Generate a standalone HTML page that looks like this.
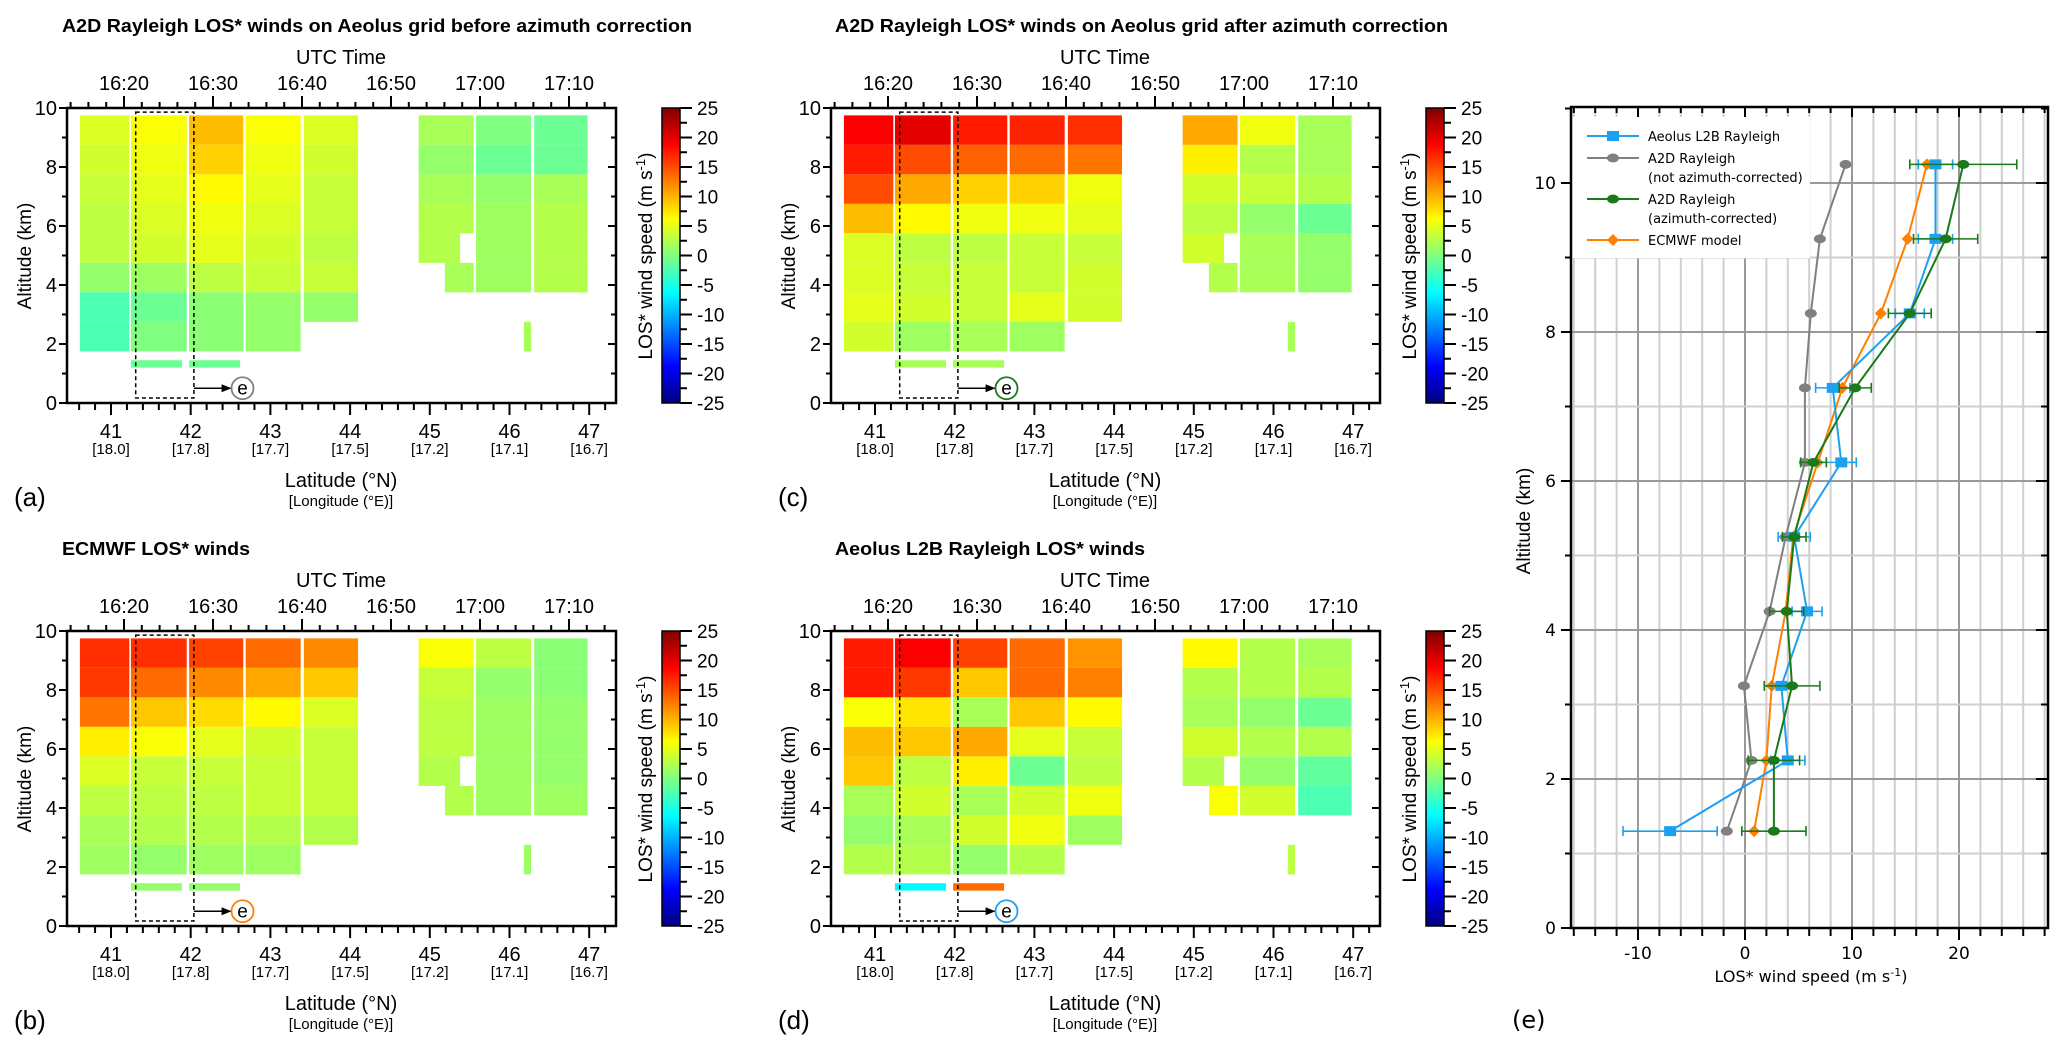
<!DOCTYPE html>
<html><head><meta charset="utf-8"><style>
html,body{margin:0;padding:0;background:#fff;}
svg{display:block;}
text{font-family:"Liberation Sans",Arial,sans-serif;fill:#000;}
.dv{font-family:"DejaVu Sans","Liberation Sans",sans-serif;}
</style></head><body>
<svg id="chart" xmlns="http://www.w3.org/2000/svg" width="2067" height="1051" viewBox="0 0 2067 1051">
<defs>
<linearGradient id="jetgrad" x1="0" y1="1" x2="0" y2="0"></linearGradient>
<marker id="arrowhead" markerWidth="10" markerHeight="8" refX="9" refY="4" orient="auto" markerUnits="userSpaceOnUse"><path d="M0,0 L10,4 L0,8 Z" fill="#000"/></marker>
</defs>
</svg>
<script>
// ---------- heatmap data (rows top->bottom: 9.25 ... 2.25 km; cols 1..8) ----------
const colLat0 = [40.61, 41.25, 41.98, 42.69, 43.42, 44.86, 45.58, 46.31];
const colLat1 = [41.23, 41.95, 42.66, 43.38, 44.10, 45.55, 46.27, 46.98];
const rowAltBottom = [8.75, 7.75, 6.75, 5.75, 4.75, 3.75, 2.75, 1.75];
const cellOverrides = [[4, 5, 44.86, 45.38], [5, 5, 45.19, 45.55]];
const tinyLat = [46.18, 46.27];
const lowBarLat0 = [41.25, 41.98];
const lowBarLat1 = [41.89, 42.62];
const lowBarAlt = [1.2, 1.45];
const latTicks = [41, 42, 43, 44, 45, 46, 47];
const lonTickLabels = ["[18.0]", "[17.8]", "[17.7]", "[17.5]", "[17.2]", "[17.1]", "[16.7]"];
const timeTickLabels = ["16:20", "16:30", "16:40", "16:50", "17:00", "17:10"];
const altTickLabels = [0, 2, 4, 6, 8, 10];
const cbarTickLabels = [25, 20, 15, 10, 5, 0, -5, -10, -15, -20, -25];

const valuesA = [
 [4.5, 6, 9.5, 6, 4.5, 2, 0, -1],
 [4, 5.5, 8.5, 5.5, 4, 1, -1, -1],
 [3.5, 5, 6.5, 5, 3.5, 2, 1, 2],
 [3, 4.5, 5.5, 4.5, 3.5, 2.5, 1.5, 2.5],
 [3, 4, 5, 4, 3, 2.5, 1.5, 2.5],
 [1, 1.5, 3, 3.5, 3.5, 2, 1.5, 2.5],
 [-2.5, -1, 0.5, 1, 1, null, null, null],
 [-2.5, 0, 0.5, 1, null, null, null, null]];
const tinyA = 2, lowBarsA = [-1, -1];

const valuesC = [
 [19, 20, 17.5, 17, 16.5, 10.5, 5.5, 2],
 [17.5, 15, 14, 13.5, 13, 7, 2.5, 2],
 [15, 10.5, 8.5, 8.5, 5.5, 4, 3.5, 2.5],
 [9.5, 6.5, 5.5, 5.5, 5, 3, 1, -1],
 [4.5, 3, 3, 3.5, 3.5, 4, 2, 1],
 [4.5, 3.5, 3.5, 3.5, 4, 2.5, 2, 1],
 [5, 4, 3.5, 5, 4, null, null, null],
 [4, 1.5, 2, 1.5, null, null, null, null]];
const tinyC = 2, lowBarsC = [2, 2];

const valuesB = [
 [16.5, 16.5, 15.5, 13.5, 12, 6, 3, 0.5],
 [16, 13.5, 12, 10.5, 9, 3.5, 1, 0.5],
 [13, 9, 8, 6.5, 4.5, 3, 1.5, 1],
 [7, 6, 5, 4, 3.5, 3, 1.5, 1],
 [4.5, 3.5, 3.5, 3.5, 3.5, 2.5, 1.5, 1],
 [3, 3, 3, 3.5, 3.5, 2.5, 1.5, 1.5],
 [2, 2.5, 2.5, 2.5, 2.5, null, null, null],
 [1.5, 1, 1.5, 1.5, null, null, null, null]];
const tinyB = 1.5, lowBarsB = [1, 1];

const valuesD = [
 [17.5, 19, 15.5, 13.5, 11.5, 6.5, 2.5, 2],
 [17.5, 16, 9, 13.5, 12.5, 2.5, 2.5, 2.5],
 [6, 7.5, 2, 9, 6.5, 2, 1, -1],
 [9.5, 9, 10.5, 5, 3.5, 4, 2.5, 2.5],
 [9, 3, 7, -1, 3, 2.5, 1, -1.5],
 [2, 4, 2, 4, 5.5, 6, 4, -2.5],
 [1, 2, 4, 5.5, 1.5, null, null, null],
 [2.5, 2.5, 1, 2.5, null, null, null, null]];
const tinyD = 3, lowBarsD = [-6.5, 13.5];

// ---------- profile data (panel e) ----------
const profAlt = [10.25, 9.25, 8.25, 7.25, 6.25, 5.25, 4.25, 3.25, 2.25, 1.3];
const l2bVals = [17.8, 17.8, 15.4, 8.2, 9.0, 4.6, 5.8, 3.4, 4.0, -7.0];
const l2bErr = [1.6, 1.6, 1.35, 1.6, 1.4, 1.5, 1.4, 0.9, 1.6, 4.4];
const rawVals = [9.4, 7.0, 6.15, 5.6, 5.6, 3.8, 2.3, -0.1, 0.6, -1.7];
const corrVals = [20.4, 18.75, 15.4, 10.3, 6.4, 4.6, 3.9, 4.4, 2.7, 2.7];
const corrErr = [5.0, 3.0, 2.0, 1.5, 1.2, 1.1, 1.6, 2.6, 2.4, 3.0];
const ecmwfVals = [17.0, 15.2, 12.7, 9.1, 6.8, 4.5, 3.8, 2.5, 2.0, 0.85];
const eXTickLabels = [-10, 0, 10, 20];
const eYTickLabels = [0, 2, 4, 6, 8, 10];

const NS = "http://www.w3.org/2000/svg";
const svg = document.getElementById('chart');
function mk(tag, attrs, parent) {
  const e = document.createElementNS(NS, tag);
  for (const k in attrs) e.setAttribute(k, attrs[k]);
  (parent || svg).appendChild(e);
  return e;
}
function txt(str, attrs, parent) { const e = mk('text', attrs, parent); e.textContent = str; return e; }
function clip(v) { return Math.max(0, Math.min(1, v)); }
function jet(v) {
  const t = (v + 25) / 50;
  const r = clip(1.5 - Math.abs(4 * t - 3)), g = clip(1.5 - Math.abs(4 * t - 2)), b = clip(1.5 - Math.abs(4 * t - 1));
  return `rgb(${Math.round(r * 255)},${Math.round(g * 255)},${Math.round(b * 255)})`;
}
// colorbar gradient
const grad = document.getElementById('jetgrad');
for (let i = 0; i <= 40; i++) {
  const st = mk('stop', {offset: (i / 40), 'stop-color': jet(-25 + 50 * i / 40)}, grad);
}

// ---------- heatmap panel ----------
const xLat = lat => 111 + (lat - 41) * 79.7;
const yAlt = a => 403 - a * 29.5;
const xMin = m => 124 + m * 8.9;

function drawPanel(ox, oy, name, title, titleLen, values, tinyV, lowBars, circColor, letter) {
  const g = mk('g', {transform: `translate(${ox},${oy})`});
  
  
  const tt = txt(title, {x: ox === 0 ? 62 : 71, y: 32, 'font-size': 18, 'font-weight': 'bold', textLength: titleLen, lengthAdjust: 'spacingAndGlyphs'}, g);
  
  
  // cells
  values.forEach((row, r) => {
    row.forEach((v, c) => {
      if (v === null) return;
      let l0 = colLat0[c], l1 = colLat1[c];
      cellOverrides.forEach(o => { if (o[0] === r && o[1] === c) { l0 = o[2]; l1 = o[3]; } });
      const a0 = rowAltBottom[r];
      const cell = mk('rect', {x: xLat(l0), y: yAlt(a0 + 1), width: xLat(l1) - xLat(l0), height: 29.5, fill: jet(v)}, g);
      
      
    });
  });
  const tiny = mk('rect', {x: xLat(tinyLat[0]), y: yAlt(2.75), width: xLat(tinyLat[1]) - xLat(tinyLat[0]), height: 29.5, fill: jet(tinyV)}, g);
  
  
  lowBars.forEach((v, i) => {
    const lb = mk('rect', {x: xLat(lowBarLat0[i]), y: yAlt(lowBarAlt[1]), width: xLat(lowBarLat1[i]) - xLat(lowBarLat0[i]), height: yAlt(lowBarAlt[0]) - yAlt(lowBarAlt[1]), fill: jet(v)}, g);
    
    
  });
  // dashed box + arrow + circle
  const db = mk('rect', {x: xLat(41.31), y: yAlt(9.86), width: xLat(42.04) - xLat(41.31), height: yAlt(0.17) - yAlt(9.86), fill: 'none', stroke: '#000', 'stroke-width': 1.5, 'stroke-dasharray': '4,3'}, g);
  
  
  const ar = mk('line', {x1: xLat(42.04), y1: yAlt(0.5), x2: xLat(42.5), y2: yAlt(0.5), stroke: '#000', 'stroke-width': 1.5, 'marker-end': 'url(#arrowhead)'}, g);
  
  
  const ci = mk('circle', {cx: xLat(42.65), cy: yAlt(0.5), r: 11, fill: '#fff', stroke: circColor, 'stroke-width': 1.8}, g);
  
  
  txt('e', {x: xLat(42.65), y: yAlt(0.5) + 6, 'font-size': 19, 'text-anchor': 'middle'}, g);
  // frame
  const fr = mk('rect', {x: 67, y: 108, width: 549, height: 295, fill: 'none', stroke: '#000', 'stroke-width': 2.5}, g);
  
  
  // top time ticks
  for (let m = -6; m <= 54; m += 2) {
    const maj = m % 10 === 0;
    mk('line', {x1: xMin(m), x2: xMin(m), y1: 108, y2: 108 - (maj ? 12 : 6), stroke: '#000', 'stroke-width': 2}, g);
  }
  timeTickLabels.forEach((s, i) => {
    const tl = txt(s, {x: xMin(i * 10), y: 90, 'font-size': 20, 'text-anchor': 'middle'}, g);
    
    
  });
  const ut = txt('UTC Time', {x: 341, y: 64, 'font-size': 20, 'text-anchor': 'middle'}, g);
  
  
  // bottom lat ticks
  for (let k = 0; k <= 33; k++) {
    const lat = 40.6 + k * 0.2;
    const maj = Math.abs(lat - Math.round(lat)) < 0.01;
    mk('line', {x1: xLat(lat), x2: xLat(lat), y1: 403, y2: 403 + (maj ? 12 : 7), stroke: '#000', 'stroke-width': 2}, g);
  }
  latTicks.forEach((lat, i) => {
    const l1 = txt(String(lat), {x: xLat(lat), y: 438, 'font-size': 20, 'text-anchor': 'middle'}, g);
    
    
    const l2 = txt(lonTickLabels[i], {x: xLat(lat), y: 454, 'font-size': 15, 'text-anchor': 'middle'}, g);
    
    
  });
  const xt = txt('Latitude (°N)', {x: 341, y: 487, 'font-size': 20, 'text-anchor': 'middle'}, g);
  
  
  const xt2 = txt('[Longitude (°E)]', {x: 341, y: 506, 'font-size': 15, 'text-anchor': 'middle'}, g);
  
  
  // altitude ticks
  for (let a = 0; a <= 10; a++) {
    const maj = a % 2 === 0;
    mk('line', {x1: 67, x2: 67 - (maj ? 8 : 5), y1: yAlt(a), y2: yAlt(a), stroke: '#000', 'stroke-width': 2}, g);
    mk('line', {x1: 616, x2: 616 - (maj ? 8 : 5), y1: yAlt(a), y2: yAlt(a), stroke: '#000', 'stroke-width': 2}, g);
  }
  altTickLabels.forEach(a => {
    const al = txt(String(a), {x: 57, y: yAlt(a) + 7, 'font-size': 20, 'text-anchor': 'end'}, g);
    
    
  });
  const yt = txt('Altitude (km)', {x: 0, y: 0, 'font-size': 19, 'text-anchor': 'middle', transform: `translate(31,256) rotate(-90)`}, g);
  
  
  // colorbar
  const cb = mk('rect', {x: 662, y: 108, width: 18, height: 295, fill: 'url(#jetgrad)', stroke: '#000', 'stroke-width': 1.5}, g);
  
  
  for (let v = -25; v <= 25; v += 2.5) {
    const y = 108 + (25 - v) / 50 * 295;
    const maj = v % 5 === 0;
    mk('line', {x1: 680, x2: 680 + (maj ? 12 : 7), y1: y, y2: y, stroke: '#000', 'stroke-width': 2}, g);
  }
  cbarTickLabels.forEach(v => {
    const y = 108 + (25 - v) / 50 * 295;
    const cl = txt(String(v), {x: 697, y: y + 7, 'font-size': 19}, g);
    
    
  });
  const ct = mk('text', {x: 0, y: 0, 'font-size': 19, 'text-anchor': 'middle', transform: 'translate(652,256) rotate(-90)'}, g);
  ct.innerHTML = 'LOS* wind speed (m s<tspan font-size="13" dy="-7">-1</tspan><tspan dy="7">)</tspan>';
  
  
  const pl = txt(letter, {x: 14, y: 506, 'font-size': 26}, g);
  
  
}

drawPanel(0, 0, 'panel-a', 'A2D Rayleigh LOS* winds on Aeolus grid before azimuth correction', 630, valuesA, tinyA, lowBarsA, '#808080', '(a)');
drawPanel(764, 0, 'panel-c', 'A2D Rayleigh LOS* winds on Aeolus grid after azimuth correction', 613, valuesC, tinyC, lowBarsC, '#1a7a1a', '(c)');
drawPanel(0, 523, 'panel-b', 'ECMWF LOS* winds', 188, valuesB, tinyB, lowBarsB, '#ff8000', '(b)');
drawPanel(764, 523, 'panel-d', 'Aeolus L2B Rayleigh LOS* winds', 310, valuesD, tinyD, lowBarsD, '#1ea0f0', '(d)');

// ---------- panel e ----------
const EL = 1571, ER = 2048, ET = 107, EB = 928;
const ex = v => 1745 + v * 10.7;
const ey = a => 928 - a * 74.5;
const ge = mk('g', {});


for (let v = -16; v <= 28; v += 2) {
  const maj = v % 10 === 0;
  const gl = mk('line', {x1: ex(v), x2: ex(v), y1: ET, y2: EB, stroke: maj ? '#9a9a9a' : '#cfcfcf', 'stroke-width': 2}, ge);
  
  
}
for (let a = 1; a <= 10; a++) {
  const maj = a % 2 === 0;
  const gl = mk('line', {x1: EL, x2: ER, y1: ey(a), y2: ey(a), stroke: maj ? '#9a9a9a' : '#cfcfcf', 'stroke-width': 2}, ge);
  
  
}
// legend background
const lg = mk('g', {}, ge);


mk('rect', {x: EL + 1, y: 117, width: 238, height: 141, fill: '#fff'}, lg);
// series
function drawSeries(name, vals, errs, color, marker) {
  const sg = mk('g', {}, ge);
  
  
  const pts = vals.map((v, i) => ex(v) + ',' + ey(profAlt[i])).join(' ');
  const pl = mk('polyline', {points: pts, fill: 'none', stroke: color, 'stroke-width': 2}, sg);
  
  
  if (errs) {
    vals.forEach((v, i) => {
      const y = ey(profAlt[i]);
      const eb = mk('path', {d: `M${ex(v - errs[i])},${y}H${ex(v + errs[i])}M${ex(v - errs[i])},${y - 5}V${y + 5}M${ex(v + errs[i])},${y - 5}V${y + 5}`, stroke: color, 'stroke-width': 1.6, fill: 'none'}, sg);
      
      
    });
  }
  vals.forEach((v, i) => {
    const x = ex(v), y = ey(profAlt[i]);
    let m;
    if (marker === 'sq') m = mk('rect', {x: x - 6, y: y - 5, width: 12, height: 10, fill: color}, sg);
    else if (marker === 'di') m = mk('path', {d: `M${x},${y - 6}L${x + 6},${y}L${x},${y + 6}L${x - 6},${y}Z`, fill: color}, sg);
    else m = mk('ellipse', {cx: x, cy: y, rx: 6, ry: 4.5, fill: color}, sg);
    
    
  });
}
drawSeries('a2d-raw-series', rawVals, null, '#808080', 'ci');
drawSeries('ecmwf-series', ecmwfVals, null, '#ff8000', 'di');
drawSeries('l2b-series', l2bVals, l2bErr, '#1ea0f0', 'sq');
drawSeries('a2d-corrected-series', corrVals, corrErr, '#1a7a1a', 'ci');
// legend entries
const legItems = [
  ['Aeolus L2B Rayleigh', null, '#1ea0f0', 'sq', 136],
  ['A2D Rayleigh', '(not azimuth-corrected)', '#808080', 'ci', 158],
  ['A2D Rayleigh', '(azimuth-corrected)', '#1a7a1a', 'ci', 199],
  ['ECMWF model', null, '#ff8000', 'di', 240]];
legItems.forEach(it => {
  const y = it[4];
  const le = mk('g', {}, lg);
  
  
  mk('line', {x1: 1587, x2: 1639, y1: y, y2: y, stroke: it[2], 'stroke-width': 2}, le);
  if (it[3] === 'sq') mk('rect', {x: 1607, y: y - 5, width: 12, height: 10, fill: it[2]}, le);
  else if (it[3] === 'di') mk('path', {d: `M1613,${y - 6}L1619,${y}L1613,${y + 6}L1607,${y}Z`, fill: it[2]}, le);
  else mk('ellipse', {cx: 1613, cy: y, rx: 6, ry: 4.5, fill: it[2]}, le);
  txt(it[0], {x: 1648, y: y + 5, 'font-size': 13, class: 'dv'}, le);
  if (it[1]) txt(it[1], {x: 1648, y: y + 24, 'font-size': 13, class: 'dv'}, le);
});
// frame & ticks
const ef = mk('rect', {x: EL, y: ET, width: ER - EL, height: EB - ET, fill: 'none', stroke: '#000', 'stroke-width': 2.5}, ge);


for (let v = -16; v <= 28; v += 2) {
  const maj = v % 10 === 0;
  mk('line', {x1: ex(v), x2: ex(v), y1: EB, y2: EB + (maj ? 12 : 8), stroke: '#000', 'stroke-width': 2}, ge);
  mk('line', {x1: ex(v), x2: ex(v), y1: ET, y2: ET + (maj ? 10 : 6), stroke: '#000', 'stroke-width': 2}, ge);
}
for (let a = 0; a <= 11; a++) {
  const maj = a % 2 === 0;
  mk('line', {x1: EL, x2: EL - (maj ? 10 : 6), y1: ey(a), y2: ey(a), stroke: '#000', 'stroke-width': 2}, ge);
  mk('line', {x1: ER, x2: ER - (maj ? 12 : 7), y1: ey(a), y2: ey(a), stroke: '#000', 'stroke-width': 2}, ge);
}
eXTickLabels.forEach(v => {
  const l = txt(String(v), {x: ex(v), y: 959, 'font-size': 17, 'text-anchor': 'middle', class: 'dv'}, ge);
  
  
});
eYTickLabels.forEach(a => {
  const l = txt(String(a), {x: 1556, y: ey(a) + 6, 'font-size': 17, 'text-anchor': 'end', class: 'dv'}, ge);
  
  
});
const ext = mk('text', {x: 1811, y: 982, 'font-size': 16, 'text-anchor': 'middle', class: 'dv'}, ge);
ext.innerHTML = 'LOS* wind speed (m s<tspan font-size="11" dy="-6">-1</tspan><tspan dy="6">)</tspan>';


const eyt = txt('Altitude (km)', {x: 0, y: 0, 'font-size': 19, 'text-anchor': 'middle', transform: 'translate(1530,521) rotate(-90)'}, ge);


const elt = txt('(e)', {x: 1512, y: 1028, 'font-size': 24, class: 'dv'}, ge);


</script>
</body></html>
